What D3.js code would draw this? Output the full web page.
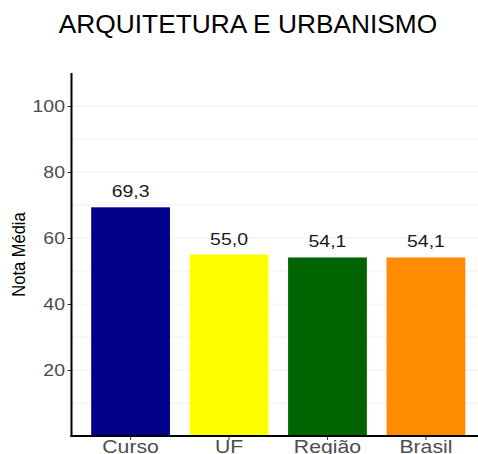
<!DOCTYPE html>
<html lang="pt">
<head>
<meta charset="UTF-8">
<title>Arquitetura e Urbanismo</title>
<style>
  body { margin: 0; background: #fff; }
  svg { font-family: "Liberation Sans", Arial, sans-serif; }
</style>
</head>
<body>
<script src="https://cdn.jsdelivr.net/npm/d3@7"></script>
<script>
const categories = ["Curso", "UF", "Região", "Brasil"];
const values = [69.3, 55.0, 54.1, 54.1];
const colors = ["#00008b", "#ffff00", "#006400", "#ff8c00"];
const yTicks = [20, 40, 60, 80, 100];
const minorTicks = [10, 30, 50, 70, 90];

const width = 478, height = 454;
const margin = {top: 73, right: -7, bottom: 18, left: 71.5};
const stretch = 1.18; // tick/value labels in the original render a bit wider

const svg = d3.select("body").append("svg")
    .attr("width", width)
    .attr("height", height);

const x = d3.scaleBand()
    .domain(categories)
    .range([margin.left, width - margin.right])
    .paddingInner(0.2)
    .paddingOuter(0.2);

const y = d3.scaleLinear()
    .domain([0, 110])
    .range([height - margin.bottom, margin.top]);

// grid
svg.append("g")
    .selectAll("line")
    .data(minorTicks.concat(yTicks))
    .join("line")
    .attr("x1", margin.left)
    .attr("x2", width)
    .attr("y1", d => y(d))
    .attr("y2", d => y(d))
    .attr("stroke", "#f0f0f0")
    .attr("stroke-width", 1);

// bars
svg.append("g")
    .selectAll("rect")
    .data(values)
    .join("rect")
    .attr("x", (d, i) => x(categories[i]))
    .attr("y", d => y(d))
    .attr("width", x.bandwidth())
    .attr("height", d => y(0) - y(d))
    .attr("fill", (d, i) => colors[i]);

// value labels
svg.append("g")
    .selectAll("text")
    .data(values)
    .join("text")
    .attr("transform", (d, i) =>
        `translate(${x(categories[i]) + x.bandwidth() / 2},${y(d) - 10}) scale(${stretch},1)`)
    .attr("text-anchor", "middle")
    .attr("font-size", 16.5)
    .attr("fill", "#1a1a1a")
    .text(d => d.toFixed(1).replace(".", ","));

// y axis
const yAxis = svg.append("g")
    .attr("transform", `translate(${margin.left},0)`)
    .call(d3.axisLeft(y).tickValues(yTicks).tickSize(4).tickPadding(2.5));
yAxis.select(".domain").remove();
yAxis.selectAll(".tick line").attr("stroke", "#333");
yAxis.selectAll(".tick text")
    .attr("fill", "#4d4d4d")
    .attr("font-size", 16.5)
    .style("font-family", "Liberation Sans, Arial, sans-serif")
    .attr("transform", function() {
        return `translate(${d3.select(this).attr("x") * (1 - stretch)},0) scale(${stretch},1)`;
    });
svg.append("line")
    .attr("x1", margin.left).attr("x2", margin.left)
    .attr("y1", margin.top).attr("y2", y(0) + 1)
    .attr("stroke", "#000").attr("stroke-width", 2);

// x axis
const xAxis = svg.append("g")
    .attr("transform", `translate(0,${y(0)})`)
    .call(d3.axisBottom(x).tickSize(4).tickPadding(0).tickSizeOuter(0));
xAxis.select(".domain").remove();
xAxis.selectAll(".tick line").attr("stroke", "#333");
xAxis.selectAll(".tick text")
    .attr("fill", "#4d4d4d")
    .attr("font-size", 18)
    .style("font-family", "Liberation Sans, Arial, sans-serif")
    .attr("transform", `scale(${stretch},1)`);
svg.append("line")
    .attr("x1", margin.left - 1).attr("x2", width)
    .attr("y1", y(0)).attr("y2", y(0))
    .attr("stroke", "#000").attr("stroke-width", 2);

// y title
svg.append("text")
    .attr("transform", `translate(25,${(y(0) + margin.top) / 2}) scale(1.12,1) rotate(-90)`)
    .attr("text-anchor", "middle")
    .attr("font-size", 16.5)
    .attr("fill", "#000")
    .text("Nota Média");

// title
svg.append("text")
    .attr("x", 248)
    .attr("y", 32.5)
    .attr("text-anchor", "middle")
    .attr("font-size", 26.3)
    .attr("fill", "#000")
    .text("ARQUITETURA E URBANISMO");
</script>
</body>
</html>
